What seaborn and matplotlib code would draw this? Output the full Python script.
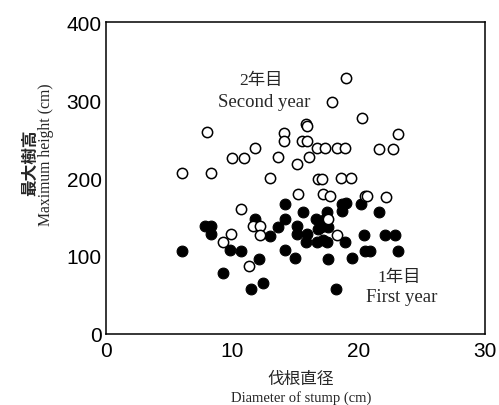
import matplotlib
matplotlib.use("Agg")
import matplotlib.pyplot as plt
import seaborn as sns
import pandas as pd

# Second year (open circles)
second_x = [6.0, 8.0, 8.3, 10.0, 10.9, 11.8, 13.0, 13.6, 14.1, 14.1, 15.1, 15.8, 15.9,
            15.5, 15.9, 16.1, 16.7, 17.3, 16.8, 17.1, 19.0, 17.9, 20.3, 23.1, 18.3,
            18.9, 21.6, 22.7, 18.6, 19.4, 15.2, 17.2, 17.7, 10.7, 11.6, 12.2, 12.2,
            9.9, 9.3, 17.6, 18.3, 11.3, 20.5, 20.7, 22.2]
second_y = [207, 259, 207, 226, 226, 238, 200, 227, 258, 248, 218, 269, 267,
            248, 248, 227, 238, 238, 199, 199, 328, 298, 277, 257, 238,
            238, 237, 237, 200, 200, 180, 180, 177, 160, 138, 138, 127,
            128, 118, 148, 127, 87, 177, 177, 176]

# First year (filled circles)
first_x = [6.0, 7.8, 8.3, 8.3, 9.8, 10.7, 9.3, 11.8, 12.1, 12.4, 11.5, 13.0, 13.6,
           14.2, 14.2, 14.2, 15.0, 15.6, 15.1, 15.1, 15.9, 15.8, 16.6, 16.8, 16.7,
           17.5, 17.5, 17.6, 18.2, 18.7, 19.0, 18.7, 20.2, 21.6, 17.3, 17.6, 17.0,
           17.2, 18.9, 20.4, 22.1, 22.9, 20.5, 20.9, 23.1, 19.5]
first_y = [107, 138, 138, 128, 108, 106, 78, 148, 96, 66, 58, 126, 137,
           147, 167, 108, 97, 157, 138, 128, 128, 118, 147, 135, 118,
           118, 156, 96, 58, 167, 168, 158, 167, 157, 147, 137, 137,
           120, 118, 127, 127, 127, 106, 106, 106, 97]

x_ticks = [0, 10, 20, 30]
y_ticks = [0, 100, 200, 300, 400]

sns.set_style("white")
plt.rcParams['font.family'] = ['Liberation Sans', 'DejaVu Sans']

fig = plt.figure(figsize=(4.99, 4.06), dpi=100)
ax = fig.add_axes([0.2124, 0.1749, 0.9719 - 0.2124, 0.9433 - 0.1749])

df1 = pd.DataFrame({"x": first_x, "y": first_y})
df2 = pd.DataFrame({"x": second_x, "y": second_y})

sns.scatterplot(data=df1, x="x", y="y", ax=ax, s=60, color="black",
                edgecolor="black", linewidth=0.8, zorder=3)
sns.scatterplot(data=df2, x="x", y="y", ax=ax, s=55, facecolor="white",
                edgecolor="black", linewidth=1.1, zorder=4)

ax.set_xlim(0, 30)
ax.set_ylim(0, 400)
ax.set_xticks(x_ticks)
ax.set_yticks(y_ticks)
ax.set_xticklabels([str(v) for v in x_ticks])
ax.set_yticklabels([str(v) for v in y_ticks])
ax.tick_params(direction="in", length=5, width=1.0, labelsize=15, colors="black",
               pad=3)
ax.tick_params(axis="x", pad=5)
for sp in ax.spines.values():
    sp.set_visible(True)
    sp.set_color("black")
    sp.set_linewidth(1.1)
ax.set_xlabel("")
ax.set_ylabel("")

serif = ['Liberation Serif', 'Noto Sans CJK JP']
cjk = ['Noto Sans CJK JP', 'Liberation Serif']

# annotations
ax.text(12.3, 326, "2年目", family=serif, fontsize=12.5, ha="center", va="center")
ax.text(12.5, 298, "Second year", family=serif, fontsize=13.5, ha="center", va="center")
ax.text(23.2, 73, "1年目", family=serif, fontsize=12.5, ha="center", va="center")
ax.text(23.4, 48, "First year", family=serif, fontsize=13.5, ha="center", va="center")

# axis labels
fig.text(301 / 499, 1 - 379 / 406, "伐根直径", family=cjk, fontsize=12,
         ha="center", va="center")
fig.text(301 / 499, 1 - 398 / 406, "Diameter of stump (cm)", family=serif,
         fontsize=10.5, ha="center", va="center")
fig.text(30 / 499, 1 - 163 / 406, "最大樹高", family=cjk, fontsize=12,
         fontweight="bold", rotation=90, ha="center", va="center")
fig.text(46 / 499, 1 - 155 / 406, "Maximum height (cm)", family=serif,
         fontsize=11.3, rotation=90, ha="center", va="center")

fig.savefig("out.png", dpi=100)
